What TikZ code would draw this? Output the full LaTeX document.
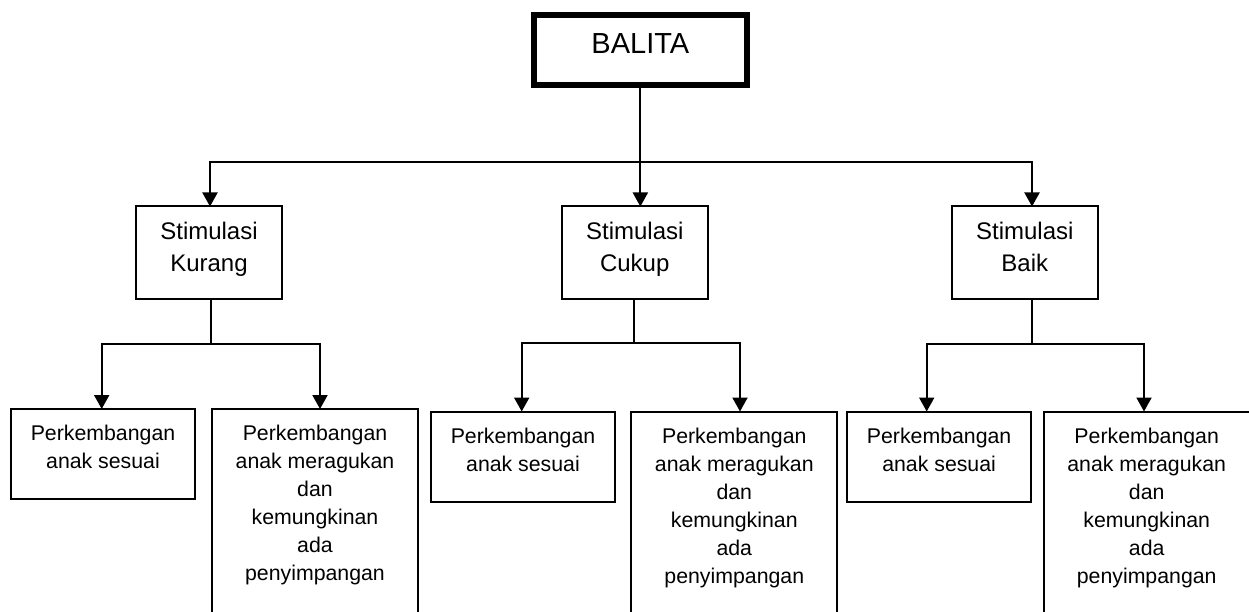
\documentclass[tikz,border=0pt]{standalone}
\usepackage{fontspec}
\setmainfont{Liberation Sans}
\usetikzlibrary{arrows.meta}
\begin{document}
\begin{tikzpicture}[x=1pt,y=-1pt,
  topbox/.style={draw=black, line width=6pt, inner sep=0pt, outer sep=0pt, minimum width=213.3pt, minimum height=70.6pt},
  sbox/.style={draw=black, line width=2pt, inner sep=0pt, outer sep=0pt, minimum width=146pt, minimum height=92pt},
  lbox/.style={draw=black, line width=2pt, inner sep=0pt, outer sep=0pt, minimum width=184pt, minimum height=90pt},
  rbox/.style={draw=black, line width=2pt, inner sep=0pt, outer sep=0pt, minimum width=206pt, minimum height=240pt},
  ttxt/.style={anchor=north, align=center, inner sep=0pt, font=\fontsize{29}{34}\selectfont},
  stxt/.style={anchor=north, align=center, inner sep=0pt, font=\fontsize{24}{31.5}\selectfont},
  btxt/.style={anchor=north, align=center, inner sep=0pt, font=\fontsize{21.3}{28}\selectfont},
  conn/.style={draw=black, line width=2pt},
  twoarr/.style={draw=black, line width=2pt, line join=miter, {Triangle[width=15pt,length=14pt]}-{Triangle[width=15pt,length=14pt]}},
  onearr/.style={draw=black, line width=2pt, -{Triangle[width=15pt,length=14pt]}}
]
\useasboundingbox (0,0) rectangle (1249,612);
\clip (0,0) rectangle (1249,612);

% top
\node[topbox] (balita) at (640.35,50) {};
\node[ttxt] (tbalita) at ([yshift=-18.6pt]balita.north) {BALITA};

% middle boxes
\node[sbox] (k) at (209,252.5) {};
\node[sbox] (c) at (634.75,252.5) {};
\node[sbox] (b) at (1024.75,252.5) {};
\node[stxt] (tk) at ([yshift=-15.5pt]k.north) {Stimulasi\\Kurang};
\node[stxt] (tc) at ([yshift=-15.5pt]c.north) {Stimulasi\\Cukup};
\node[stxt] (tb) at ([yshift=-15.5pt]b.north) {Stimulasi\\Baik};

% bottom boxes
\node[lbox] (kl) at (103,454) {};
\node[rbox] (kr) at (315,529) {};
\node[lbox] (cl) at (523,456.5) {};
\node[rbox] (cr) at (734.3,531.5) {};
\node[lbox] (bl) at (939.1,456.5) {};
\node[rbox] (br) at (1146.7,531.5) {};
\node[btxt] (tkl) at ([yshift=-16pt]kl.north) {Perkembangan\\anak sesuai};
\node[btxt] (tkr) at ([yshift=-16pt]kr.north) {Perkembangan\\anak meragukan\\dan\\kemungkinan\\ada\\penyimpangan};
\node[btxt] (tcl) at ([yshift=-16pt]cl.north) {Perkembangan\\anak sesuai};
\node[btxt] (tcr) at ([yshift=-16pt]cr.north) {Perkembangan\\anak meragukan\\dan\\kemungkinan\\ada\\penyimpangan};
\node[btxt] (tbl) at ([yshift=-16pt]bl.north) {Perkembangan\\anak sesuai};
\node[btxt] (tbr) at ([yshift=-16pt]br.north) {Perkembangan\\anak meragukan\\dan\\kemungkinan\\ada\\penyimpangan};

% top bus
\coordinate (bus) at (640.35,162);
\coordinate (busL) at (210,162);
\coordinate (busR) at (1032,162);
\draw[conn] (balita.south) -- (bus);
\draw[twoarr] (busL |- k.north) -- (busL) -- (busR) -- (busR |- b.north);
\draw[onearr] (bus) -- (bus |- c.north);

% Kurang group
\coordinate (ks) at (210.5,344);
\coordinate (k1) at (101.7,344);
\coordinate (k2) at (320,344);
\draw[conn] (ks |- k.south) -- (ks);
\draw[twoarr] (k1 |- kl.north) -- (k1) -- (k2) -- (k2 |- kr.north);

% Cukup group
\coordinate (cs) at (634.3,343);
\coordinate (c1) at (521.7,343);
\coordinate (c2) at (740,343);
\draw[conn] (cs |- c.south) -- (cs);
\draw[twoarr] (c1 |- cl.north) -- (c1) -- (c2) -- (c2 |- cr.north);

% Baik group
\coordinate (bs) at (1032.3,344);
\coordinate (b1) at (926.7,344);
\coordinate (b2) at (1144,344);
\draw[conn] (bs |- b.south) -- (bs);
\draw[twoarr] (b1 |- bl.north) -- (b1) -- (b2) -- (b2 |- br.north);
\end{tikzpicture}
\end{document}
